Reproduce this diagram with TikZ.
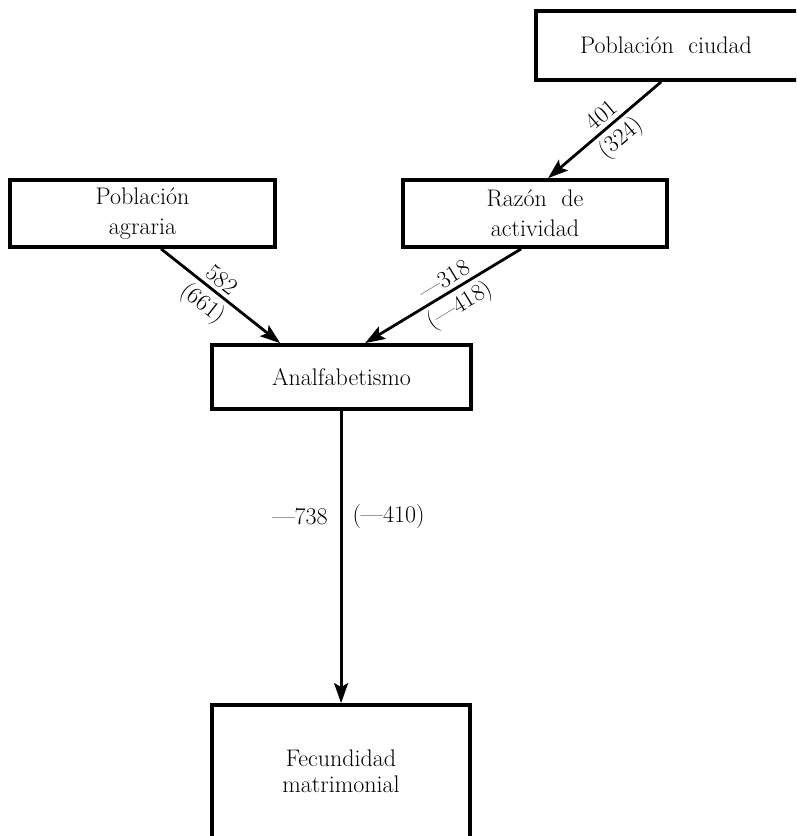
\documentclass[tikz,border=0pt]{standalone}
\usetikzlibrary{arrows.meta,calc}
\begin{document}
\begin{tikzpicture}[x=1pt,y=1pt,
  box/.style={draw, line width=3.8pt, rectangle, inner sep=0pt, align=center,
    font=\fontsize{24}{30}\selectfont},
  link/.style={line width=2.8pt, -{Stealth[length=20pt,width=14pt,inset=4pt]}},
  val/.style={font=\fontsize{24}{26}\selectfont, sloped, inner sep=1pt},
  vval/.style={font=\fontsize{24}{26}\selectfont, inner sep=0pt}]
\useasboundingbox (0,0) rectangle (796,-836);
\clip (0,0) rectangle (796,-836);

% boxes
\node[box, minimum width=264pt, minimum height=69pt] (ciudad) at (668,-45.5) {\hspace*{-4pt}Población\ \ ciudad};
\node[box, minimum width=265pt, minimum height=67pt] (agraria) at (142.5,-213.5) {Población\\agraria};
\node[box, minimum width=264pt, minimum height=67pt] (razon) at (535,-213.5) {Razón\ \ de\\actividad};
\node[box, minimum width=259pt, minimum height=64pt] (analf) at (341.5,-377) {Analfabetismo};
\node[box, minimum width=258pt, minimum height=133pt,
  font=\fontsize{24}{26}\selectfont] (fecund) at (341,-771.5) {Fecundidad\\matrimonial};

% paths with coefficients
\draw[link] ($(ciudad.south west)+(127,0)$) --
  node[val, pos=0.45, above=3pt] {401}
  node[val, pos=0.45, below=3pt] {(324)}
  ($(razon.north west)+(147,0)$);

\draw[link] ($(agraria.south west)+(153,0)$) --
  node[val, pos=0.44, above=3pt] {582}
  node[val, pos=0.44, below=3pt] {(661)}
  ($(analf.north west)+(70,0)$);

\draw[link] ($(razon.south west)+(120,0)$) --
  node[val, pos=0.45, above=3pt] {---318}
  node[val, pos=0.45, below=3pt] {(---418)}
  ($(analf.north west)+(155,0)$);

\coordinate (vtop) at ($(analf.south west)+(131,0)$);
\draw[link] (vtop) --
  node[vval, pos=0.36, left=12pt] {---738}
  node[vval, pos=0.36, right=10pt] {(---410)}
  (vtop |- fecund.north);
\end{tikzpicture}
\end{document}
